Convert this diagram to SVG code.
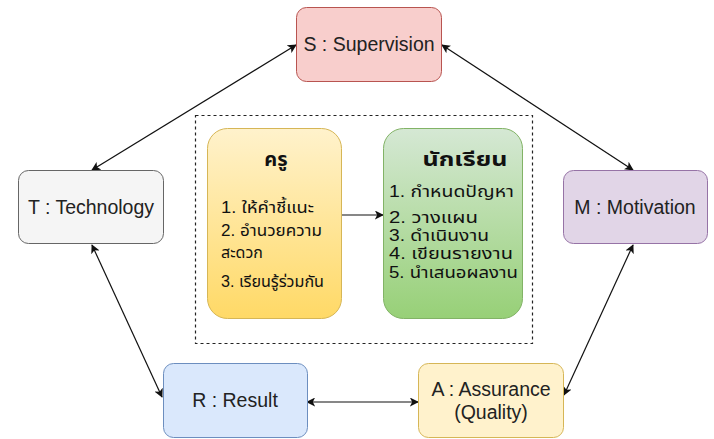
<svg xmlns="http://www.w3.org/2000/svg" width="714" height="439" viewBox="0 0 714 439">
<style>
.lbl{font-family:"Liberation Sans",Arial,sans-serif;font-size:19.5px;fill:#222;text-anchor:middle}
.th{font-family:"Liberation Sans","Noto Sans Thai","Noto Sans",sans-serif;font-size:16px;fill:#111}
.tt{font-family:"Liberation Sans","Noto Sans Thai","Noto Sans",sans-serif;font-size:20px;font-weight:bold;fill:#111;text-anchor:middle}
.cn{stroke:#111;stroke-width:1.2;fill:none;marker-start:url(#a);marker-end:url(#a)}
</style>
<defs>
<marker id="a" viewBox="0 0 10 10" refX="9" refY="5" markerWidth="9" markerHeight="9" markerUnits="userSpaceOnUse" orient="auto-start-reverse"><path d="M0,0 L10,5 L0,10 L2.5,5 Z" fill="#111"/></marker>
<linearGradient id="gy" x1="0" y1="0" x2="0" y2="1"><stop offset="0" stop-color="#fff2cc"/><stop offset="1" stop-color="#ffd966"/></linearGradient>
<linearGradient id="gg" x1="0" y1="0" x2="0" y2="1"><stop offset="0" stop-color="#d5e8d4"/><stop offset="1" stop-color="#97d077"/></linearGradient>
</defs>
<rect width="714" height="439" fill="#fff"/>
<g id="connectors">
<path class="cn" d="M92,170 L296,45"/>
<path class="cn" d="M442,45 L633,170"/>
<path class="cn" d="M92,245 L162,397"/>
<path class="cn" d="M633,245 L564,395"/>
<path class="cn" d="M307,402 L418,402"/>
<path d="M341,215 L383,215" stroke="#111" stroke-width="1.2" fill="none" marker-end="url(#a)"/>
</g>
<g id="frame"><rect x="195.5" y="115.5" width="337" height="228" fill="none" stroke="#222" stroke-width="1.2" stroke-dasharray="3,3"/></g>
<g id="S"><rect x="296.5" y="7.5" width="145" height="74" rx="10" fill="#f8cecc" stroke="#b85450"/><text class="lbl" x="369" y="51">S : Supervision</text></g>
<g id="T"><rect x="18.5" y="170.5" width="145" height="73" rx="10" fill="#f5f5f5" stroke="#666"/><text class="lbl" x="91" y="214">T : Technology</text></g>
<g id="M"><rect x="563.5" y="170.5" width="144" height="73" rx="10" fill="#e1d5e7" stroke="#9673a6"/><text class="lbl" x="635" y="214">M : Motivation</text></g>
<g id="R"><rect x="163.5" y="363.5" width="144" height="74" rx="10" fill="#dae8fc" stroke="#6c8ebf"/><text class="lbl" x="235" y="407">R : Result</text></g>
<g id="A"><rect x="418.5" y="363.5" width="145" height="74" rx="10" fill="#fff2cc" stroke="#d6b656"/><text class="lbl" x="491" y="396">A : Assurance</text><text class="lbl" x="491" y="419">(Quality)</text></g>
<g id="teacher"><rect x="207.5" y="128.5" width="134" height="190" rx="20" fill="url(#gy)" stroke="#d6b656"/>
<text class="tt" x="276" y="166">ครู</text>
<text class="th" x="221" y="213" textLength="93" lengthAdjust="spacingAndGlyphs">1. ให้คำชี้แนะ</text>
<text class="th" x="221" y="236" textLength="101" lengthAdjust="spacingAndGlyphs">2. อำนวยความ</text>
<text class="th" x="221" y="258">สะดวก</text>
<text class="th" x="221" y="287" textLength="103" lengthAdjust="spacingAndGlyphs">3. เรียนรู้ร่วมกัน</text></g>
<g id="student"><rect x="383.5" y="128.5" width="139" height="190" rx="20" fill="url(#gg)" stroke="#82b366"/>
<text class="tt" x="465" y="166" textLength="85" lengthAdjust="spacingAndGlyphs">นักเรียน</text>
<text class="th" x="389" y="197" textLength="125" lengthAdjust="spacingAndGlyphs">1. กำหนดปัญหา</text>
<text class="th" x="389" y="223" textLength="89" lengthAdjust="spacingAndGlyphs">2. วางแผน</text>
<text class="th" x="389" y="241" textLength="100" lengthAdjust="spacingAndGlyphs">3. ดำเนินงาน</text>
<text class="th" x="389" y="259" textLength="124" lengthAdjust="spacingAndGlyphs">4. เขียนรายงาน</text>
<text class="th" x="389" y="278" textLength="129" lengthAdjust="spacingAndGlyphs">5. นำเสนอผลงาน</text></g>
</svg>
